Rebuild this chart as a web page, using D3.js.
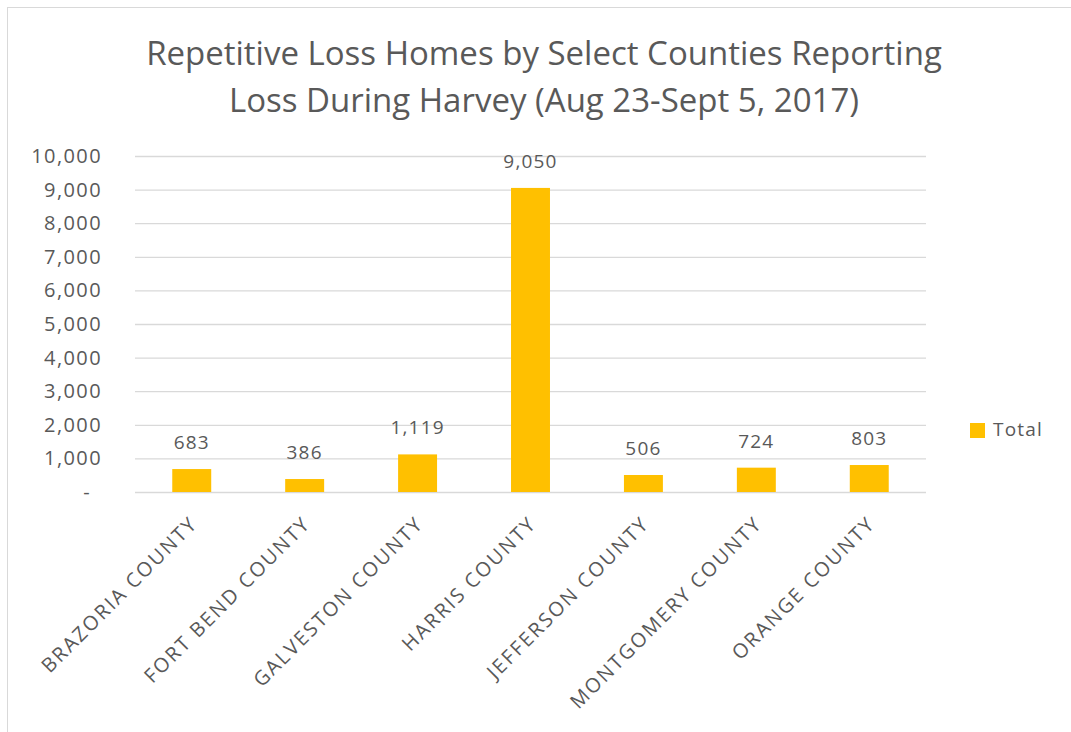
<!DOCTYPE html>
<html>
<head>
<meta charset="utf-8">
<script src="https://cdn.jsdelivr.net/npm/d3@7"></script>
<style>
  body { margin: 0; background: #fff; }
  text { font-family: "Open Sans", "Noto Sans", sans-serif; fill: #595959; }
</style>
</head>
<body>
<div id="chart"></div>
<script>
// Data
const counties = ["BRAZORIA COUNTY", "FORT BEND COUNTY", "GALVESTON COUNTY", "HARRIS COUNTY",
                  "JEFFERSON COUNTY", "MONTGOMERY COUNTY", "ORANGE COUNTY"];
const totals = [683, 386, 1119, 9050, 506, 724, 803];
const yTicks = [0, 1000, 2000, 3000, 4000, 5000, 6000, 7000, 8000, 9000, 10000];
const titleLines = ["Repetitive Loss Homes by Select Counties Reporting",
                    "Loss During Harvey (Aug 23-Sept 5, 2017)"];
const seriesName = "Total";

const data = counties.map((c, i) => ({ county: c, value: totals[i] }));

// Dimensions
const W = 1071, H = 732;
const plot = { left: 135, right: 926, top: 156, bottom: 492 };

const svg = d3.select("#chart").append("svg")
    .attr("width", W)
    .attr("height", H);

// Chart border
svg.append("rect")
    .attr("x", 7.5).attr("y", 7.5)
    .attr("width", W).attr("height", H)
    .attr("fill", "none")
    .attr("stroke", "#d9d9d9");

// Scales
const x = d3.scaleBand()
    .domain(counties)
    .range([plot.left, plot.right])
    .paddingInner(0.655)
    .paddingOuter(0.33);

const y = d3.scaleLinear()
    .domain([0, 10000])
    .range([plot.bottom, plot.top]);

// Grid lines
svg.append("g")
    .attr("transform", "translate(" + plot.left + ",0)")
    .call(d3.axisLeft(y).tickValues(yTicks).tickSize(-(plot.right - plot.left)).tickFormat(""))
    .call(g => g.select(".domain").remove())
    .call(g => g.selectAll("line").attr("stroke", "#d9d9d9").attr("stroke-width", 1.3));

// Y axis labels
svg.append("g")
    .attr("transform", "translate(102,0)")
    .call(d3.axisLeft(y).tickValues(yTicks).tickSize(0).tickPadding(0)
        .tickFormat(d => d === 0 ? "-" : d3.format(",")(d)))
    .call(g => g.select(".domain").remove())
    .call(g => g.selectAll("text")
        .attr("dx", d => d === 0 ? -11 : 0)
        .style("font-size", "20px")
        .style("letter-spacing", "1.4px")
        .style("fill", "#595959")
        .style("font-family", "'Open Sans', sans-serif"));

// Bars
svg.append("g").selectAll("rect")
    .data(data)
    .enter()
    .append("rect")
    .attr("x", d => x(d.county))
    .attr("y", d => y(d.value))
    .attr("width", x.bandwidth())
    .attr("height", d => y(0) - y(d.value))
    .attr("fill", "#ffc000");

// Value labels
svg.append("g").selectAll("text")
    .data(data)
    .enter()
    .append("text")
    .attr("x", d => x(d.county) + x.bandwidth() / 2)
    .attr("y", d => y(d.value) - 20)
    .attr("text-anchor", "middle")
    .style("font-size", "19px")
    .style("letter-spacing", "1.2px")
    .text(d => d3.format(",")(d.value));

// X axis labels (rotated)
svg.append("g").selectAll("text")
    .data(data)
    .enter()
    .append("text")
    .attr("transform", d => "translate(" + (x(d.county) + x.bandwidth() / 2 + 7) + ",525) rotate(-45)")
    .attr("text-anchor", "end")
    .style("font-size", "20px")
    .style("letter-spacing", "2px")
    .text(d => d.county);

// Title
svg.append("g").selectAll("text")
    .data(titleLines)
    .enter()
    .append("text")
    .attr("x", 544)
    .attr("y", (d, i) => 65 + i * 47)
    .attr("text-anchor", "middle")
    .style("font-size", "33px")
    .text(d => d);

// Legend
const legend = svg.append("g").attr("transform", "translate(970,423)");
legend.append("rect")
    .attr("width", 15).attr("height", 15)
    .attr("fill", "#ffc000");
legend.append("text")
    .attr("x", 23).attr("y", 13)
    .style("font-size", "19px")
    .style("letter-spacing", "1.2px")
    .text(seriesName);
</script>
</body>
</html>
